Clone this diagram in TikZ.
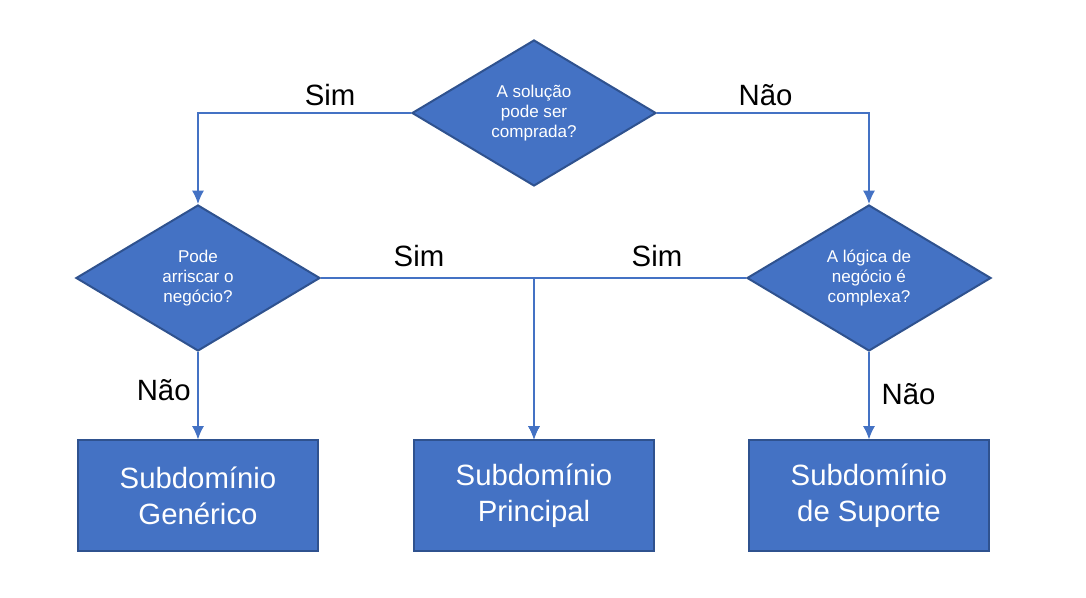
\documentclass[tikz,border=0pt]{standalone}
\usepackage{fontspec}
\setmainfont{Liberation Sans}
\usepackage{tikz}
\usetikzlibrary{arrows.meta,shapes.geometric,positioning}
\definecolor{azul}{HTML}{4472C4}
\definecolor{azulesc}{HTML}{2F528F}

\begin{document}
\begin{tikzpicture}[->,>={Latex[length=10pt,width=9pt]},on grid,
	decisao/.style={diamond,draw=azulesc,fill=azul,line width=1.5pt,text=white,align=center,font=\fontsize{12.8}{15}\selectfont,inner sep=0pt,shape aspect=1.67,minimum width=183pt,minimum height=109.5pt},
	dominio/.style={rectangle,draw=azulesc,fill=azul,line width=1.5pt,text=white,align=center,font=\fontsize{22}{27}\selectfont,minimum width=180pt,minimum height=83.25pt},
	seta/.style={draw=azul,line width=1.1pt},
	rotulo/.style={font=\fontsize{22}{26}\selectfont,text=black,inner sep=0pt}]
		\useasboundingbox[fill=white] (-400.5pt,84.75pt) rectangle (414pt,-363.75pt);
		
		\node[decisao]         (C)                                       {A solução\\pode ser\\comprada?};
		\node[decisao]         (A)    [below left=123.75pt and 252pt of C]    {Pode\\arriscar o\\negócio?};
		\node[decisao]         (N)    [below right=123.75pt and 251.25pt of C] {A lógica de\\negócio é\\complexa?};
		\node[dominio]         (G)    [below=163.5pt of A]               {Subdomínio\\Genérico};
		\node[dominio]         (P)    [below=287.25pt of C]              {Subdomínio\\Principal};
		\node[dominio]         (S)    [below=163.5pt of N]               {Subdomínio\\de Suporte};
		
		\path[seta] (C.west)  -|  node[rotulo,pos=0.19,above=4.5pt]  {Sim} (A.north);
		\path[seta] (C.east)  -|  node[rotulo,pos=0.256,above=4.5pt] {Não} (N.north);
		\path[seta] (A.east)  -|  node[rotulo,pos=0.23,above=7.5pt]  {Sim} (P.north);
		\path[seta] (N.west)  -|  node[rotulo,pos=0.21,above=7.5pt]  {Sim} (P.north);
		\path[seta] (A.south) --  node[rotulo,pos=0.44,left=5pt]     {Não} (G.north);
		\path[seta] (N.south) --  node[rotulo,pos=0.48,right=9pt]    {Não} (S.north);
		\end{tikzpicture}
\end{document}
